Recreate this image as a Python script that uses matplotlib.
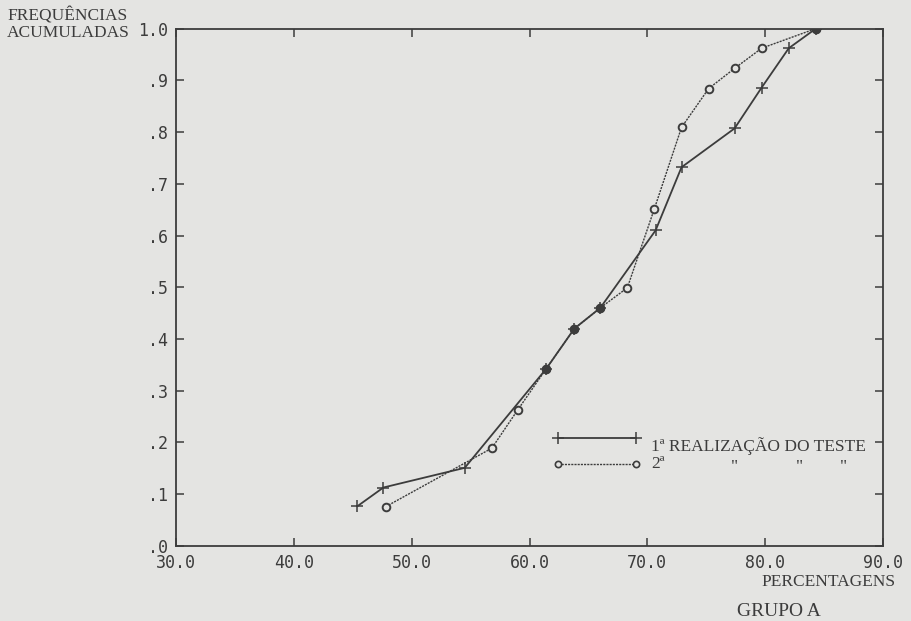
import numpy as np
import matplotlib.pyplot as plt

# 1a realizacao do teste (cruzes, linha continua)
x1 = [45.4, 47.6, 54.5, 61.4, 63.8, 66.0, 70.7, 72.9, 77.4, 79.7, 82.0, 84.3]
y1 = [0.077, 0.113, 0.151, 0.342, 0.420, 0.460, 0.610, 0.732, 0.807, 0.886, 0.962, 1.0]

# 2a realizacao (circulos, linha pontilhada)
x2 = [47.8, 56.8, 59.0, 61.4, 63.8, 66.0, 68.3, 70.6, 72.9, 75.2, 77.4, 79.7, 84.3]
y2 = [0.076, 0.189, 0.263, 0.342, 0.420, 0.460, 0.499, 0.652, 0.809, 0.884, 0.923, 0.962, 1.0]

xticks = [30, 40, 50, 60, 70, 80, 90]
xlabels = ["30.0", "40.0", "50.0", "60.0", "70.0", "80.0", "90.0"]
yticks = [0.0, 0.1, 0.2, 0.3, 0.4, 0.5, 0.6, 0.7, 0.8, 0.9, 1.0]
ylabels = [".0", ".1", ".2", ".3", ".4", ".5", ".6", ".7", ".8", ".9", "1.0"]

bg = "#e4e4e2"
ink = "#3c3c3c"

fig = plt.figure(figsize=(9.11, 6.21), dpi=100, facecolor=bg)
ax = fig.add_axes([0.1932, 0.1208, 0.7761, 0.8332], facecolor=bg)

ax.plot(x1, y1, color=ink, lw=1.3, marker="+", ms=8, mew=1.1, zorder=3)
ax.plot(x2, y2, color=ink, lw=1.0, ls=(0, (1.5, 0.8)), marker="o", ms=5.5,
        mfc=bg, mec=ink, mew=1.4, zorder=2)

# pontos comuns as duas series aparecem cheios
shared = [(a, b) for a, b in zip(x2, y2) if (a, b) in set(zip(x1, y1))]
sx, sy = zip(*shared)
ax.plot(sx, sy, ls="none", marker="o", ms=5.5, color=ink, zorder=4)

ax.set_xlim(30, 90)
ax.set_ylim(0, 1.0)
ax.set_xticks(xticks)
ax.set_xticklabels(xlabels)
ax.set_yticks(yticks)
ax.set_yticklabels(ylabels)
ax.tick_params(direction="in", length=6, width=1.1, color=ink, labelcolor=ink,
               top=True, right=True, labelsize=12, pad=6)
for lab in ax.get_xticklabels() + ax.get_yticklabels():
    lab.set_family("DejaVu Sans Mono")
for sp in ax.spines.values():
    sp.set_color(ink)
    sp.set_linewidth(1.3)

# legenda desenhada a mao
ax.plot([62.4, 69.0], [0.209, 0.209], color=ink, lw=1.3, marker="+", ms=8, mew=1.1)
ax.plot([62.4, 69.0], [0.158, 0.158], color=ink, lw=1.0, ls=(0, (1.5, 0.8)),
        marker="o", ms=4.5, mfc=bg, mec=ink, mew=1.2)
serif = "Liberation Serif"
ax.text(70.3, 0.193, "1ª REALIZAÇÃO DO TESTE", family=serif, fontsize=12.5,
        color=ink, va="center")
ax.text(70.3, 0.158, "2ª", family=serif, fontsize=12.5, color=ink, va="center")
for xq in [77.1, 82.6, 86.3]:
    ax.text(xq, 0.152, '"', family=serif, fontsize=12.5, color=ink, va="center")

fig.text(0.008, 0.975, "FREQUÊNCIAS", family=serif, fontsize=12.5, color=ink,
         va="center")
fig.text(0.008, 0.947, "ACUMULADAS", family=serif, fontsize=12.5, color=ink,
         va="center")
fig.text(0.983, 0.062, "PERCENTAGENS", family=serif, fontsize=12.5, color=ink,
         ha="right", va="center")
fig.text(0.855, 0.015, "GRUPO A", family=serif, fontsize=14, color=ink,
         ha="center", va="center")

fig.savefig("out.png", dpi=100, facecolor=bg)
